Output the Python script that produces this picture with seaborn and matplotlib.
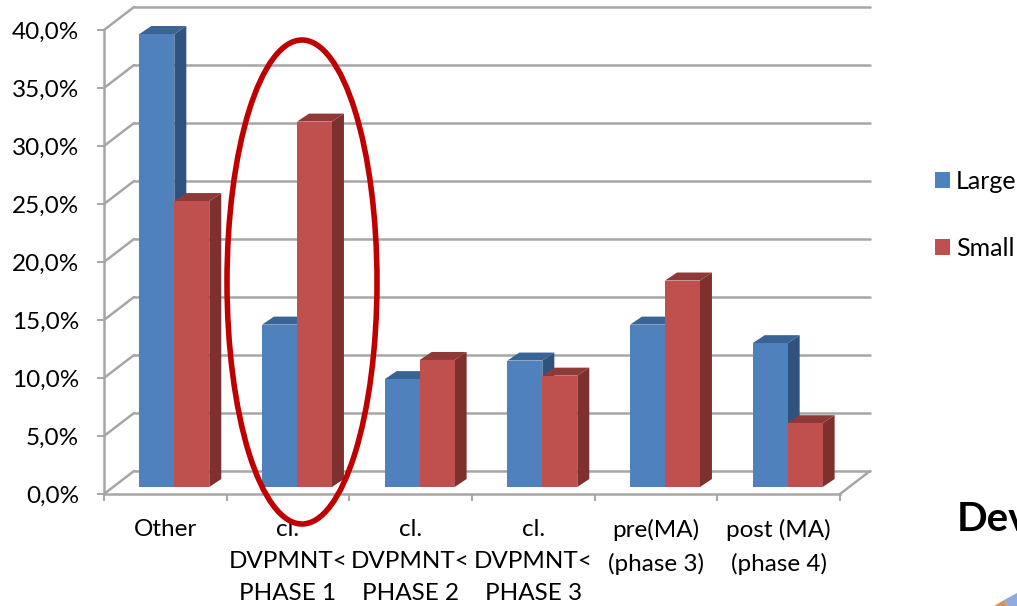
import numpy as np
import pandas as pd
import matplotlib.pyplot as plt
from matplotlib.patches import Ellipse, Polygon
import seaborn as sns

categories = ["Other", "cl.\nDVPMNT<\nPHASE 1", "cl.\nDVPMNT<\nPHASE 2",
              "cl.\nDVPMNT<\nPHASE 3", "pre(MA)\n(phase 3)", "post (MA)\n(phase 4)"]
large = [39.05, 14.0, 9.3, 10.9, 14.0, 12.4]
small = [24.65, 31.5, 10.95, 9.6, 17.8, 5.5]
y_ticks = [0, 5, 10, 15, 20, 25, 30, 35, 40]
y_tick_labels = ["0,0%", "5,0%", "10,0%", "15,0%", "20,0%", "25,0%", "30,0%", "35,0%", "40,0%"]

W, H = 1017, 606
GREY = "#a6a6a6"


def main():
    sns.set_theme(style="white")
    plt.rcParams["font.family"] = ["Lato", "DejaVu Sans"]

    data = pd.DataFrame({
        "cat": categories * 2,
        "value": large + small,
        "size": ["Large"] * len(large) + ["Small"] * len(small),
    })

    fig = plt.figure(figsize=(W / 100, H / 100), dpi=100)
    # front plane of the fake 3D box
    ax = fig.add_axes([104 / W, 1 - 494 / H, 736 / W, 464 / H])
    sns.barplot(data=data, x="cat", y="value", hue="size", order=categories,
                palette={"Large": "#4f81bd", "Small": "#c0504d"},
                width=0.57, gap=0, saturation=1, ax=ax, legend=False)
    ax.set_xlim(-0.5, 5.5)
    ax.set_ylim(0, 40)
    ax.set_xlabel("")
    ax.set_ylabel("")

    # depth of the box and of the bars, in data units
    px_x = 6 / 736
    px_y = 40 / 464
    wall_dx, wall_dy = 30 * px_x, 23 * px_y
    bar_dx, bar_dy = 12 * px_x, 8 * px_y
    shift_x, shift_y = 9 * px_x, 7 * px_y

    # back wall grid and floor
    for v in y_ticks:
        ax.plot([-0.5 + wall_dx, 5.5 + wall_dx], [v + wall_dy, v + wall_dy],
                color=GREY, lw=1.8, clip_on=False, zorder=1)
        ax.plot([-0.5, -0.5 + wall_dx], [v, v + wall_dy],
                color=GREY, lw=1.8, clip_on=False, zorder=1)
    ax.plot([5.5, 5.5 + wall_dx], [0, wall_dy], color=GREY, lw=1.8, clip_on=False, zorder=1)

    # move the bars onto the floor and give them sides
    shades = [("#30527f", "#3a6496"), ("#7d302e", "#8e3a38")]
    for n, (cont, (side_c, top_c)) in enumerate(zip(ax.containers, shades)):
        for bar in cont:
            bar.set_x(bar.get_x() + shift_x)
            bar.set_y(bar.get_y() + shift_y)
            bar.set_linewidth(0)
            bar.set_zorder(3 + n)
            x0, x1 = bar.get_x(), bar.get_x() + bar.get_width()
            y0, y1 = bar.get_y(), bar.get_y() + bar.get_height()
            side = [(x1, y0), (x1 + bar_dx, y0 + bar_dy), (x1 + bar_dx, y1 + bar_dy), (x1, y1)]
            top = [(x0, y1), (x0 + bar_dx, y1 + bar_dy), (x1 + bar_dx, y1 + bar_dy), (x1, y1)]
            ax.add_patch(Polygon(side, color=side_c, lw=0, zorder=2.5 + n, clip_on=False))
            ax.add_patch(Polygon(top, color=top_c, lw=0, zorder=2.5 + n, clip_on=False))

    sns.despine(ax=ax)
    for s in ["left", "bottom"]:
        ax.spines[s].set_color(GREY)
        ax.spines[s].set_linewidth(1.8)

    ax.set_yticks(y_ticks)
    ax.set_yticklabels(y_tick_labels)
    ax.set_xticks(range(len(categories)))
    ax.set_xticklabels(categories, linespacing=1.66)
    ax.set_xticks(np.arange(-0.5, 6), minor=True)
    ax.tick_params(axis="y", length=5, width=1.4, color=GREY, pad=13, left=True,
                   labelsize=17.5, labelcolor="black")
    ax.tick_params(axis="x", which="major", length=0, pad=18, labelsize=17.5, labelcolor="black")
    ax.tick_params(axis="x", which="minor", length=5, width=1.4, color=GREY, bottom=True)

    # legend, built from the bars
    leg = ax.legend(ax.containers, ["Large", "Small"], loc="center left",
                    bbox_to_anchor=(935 / W, 1 - 215 / H), bbox_transform=fig.transFigure,
                    frameon=False, fontsize=18, handlelength=0.6, handleheight=0.6,
                    handletextpad=0.25, labelspacing=1.75, borderpad=0, borderaxespad=0)
    for t in leg.get_texts():
        t.set_color("black")

    # red highlight around the first development phase
    fig.add_artist(Ellipse((302 / W, 1 - 282 / H), 150 / W, 484 / H, fill=False,
                           edgecolor="#c00000", lw=4, transform=fig.transFigure, zorder=10))

    fig.text(957 / W, 1 - 531 / H, "Dev", fontsize=29, fontweight="bold", color="black", va="baseline")

    # corner of the pie that sits below the chart on the slide
    corner = [((994, 606), (1004, 600), (1008, 606), "#d9935a"),
              ((1004, 600), (1017, 593), (1017, 606), (1008, 606), "#8faadc")]
    for pts in corner:
        xy = [(p[0] / W, 1 - p[1] / H) for p in pts[:-1]]
        fig.add_artist(Polygon(xy, color=pts[-1], lw=0, transform=fig.transFigure))

    plt.savefig("out.png", dpi=100)


if __name__ == '__main__':
    main()
